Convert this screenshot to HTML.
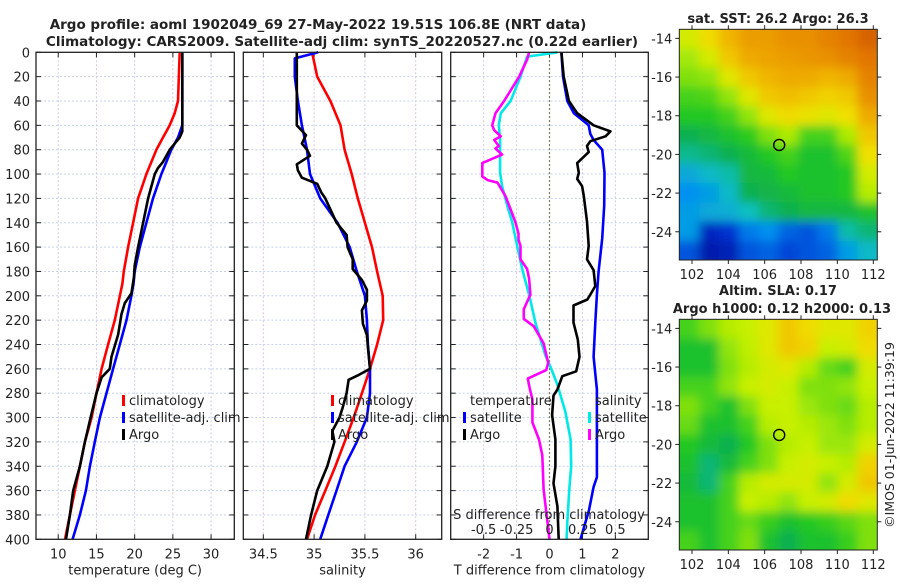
<!DOCTYPE html>
<html><head><meta charset="utf-8"><style>
body{margin:0;background:#fff;}
svg text{font-family:"DejaVu Sans","Liberation Sans",sans-serif;fill:#222;}
</style></head><body>
<svg id="chart" width="900" height="580" viewBox="0 0 900 580" xmlns="http://www.w3.org/2000/svg">
<defs>
<filter id="blur" x="0" y="0" width="1" height="1"><feGaussianBlur stdDeviation="5" edgeMode="duplicate"/></filter>
<clipPath id="clipTop"><rect x="679.3" y="29.3" width="198" height="230.7"/></clipPath>
<clipPath id="clipBot"><rect x="679.3" y="319.3" width="198" height="230.7"/></clipPath>
</defs>
<g id="titles">
<text x="318" y="29" text-anchor="middle" font-size="13.5" font-weight="bold">Argo profile: aoml 1902049_69 27-May-2022 19.51S 106.8E (NRT data)</text>
<text x="342" y="46" text-anchor="middle" font-size="13.5" font-weight="bold">Climatology: CARS2009. Satellite-adj clim: synTS_20220527.nc (0.22d earlier)</text>
<text x="778" y="23" text-anchor="middle" font-size="13" font-weight="bold">sat. SST: 26.2 Argo: 26.3</text>
<text x="778" y="295" text-anchor="middle" font-size="13" font-weight="bold">Altim. SLA: 0.17</text>
<text x="782" y="313" text-anchor="middle" font-size="13" font-weight="bold">Argo h1000: 0.12 h2000: 0.13</text>
<text transform="translate(894,435) rotate(-90)" text-anchor="middle" font-size="12.5">©IMOS 01-Jun-2022 11:39:19</text>
</g>
</svg>
<script>
// ---- data ----
const depthTicks=[0,20,40,60,80,100,120,140,160,180,200,220,240,260,280,300,320,340,360,380,400];
const tempTicks=[10,15,20,25,30];
const salTicks=[34.5,35,35.5,36];
const tdiffTicks=[-2,-1,0,1,2];
const sdiffTicks=[-0.5,-0.25,0,0.25,0.5];
const sdiffTickLabels=["-0.5","-0.25","0","0.25","0.5"];

const tClimDepth=[0,40,50,60,70,80,90,100,120,140,160,180,190,220,240,260,280,300,320,340,360,380,400];
const tClimVal=[25.9,25.67,25.24,24.58,23.71,22.85,22.19,21.54,20.45,19.8,19.14,18.58,18.4,17.4,16.53,15.67,15.01,14.36,13.49,12.83,12.18,11.53,10.88];
const tSatDepth=[0,60,70,80,90,100,120,140,160,180,190,200,220,240,260,280,300,320,340,360,380,400];
const tSatVal=[26.24,26.24,25.67,24.8,24.15,23.5,22.4,21.54,20.67,20.01,19.85,19.58,18.93,18.06,17.18,16.32,15.45,14.79,14.14,13.62,12.83,11.88];
const tArgoDepth=[0,65,70,75,80,90,95,100,120,140,160,175,185,198,206,215,232,250,260,267,280,300,320,340,360,380,400];
const tArgoVal=[26.24,26.24,25.9,25.24,24.58,23.71,23.06,22.63,21.76,21.1,20.45,20.01,19.9,19.58,18.71,18.28,17.84,16.97,16.75,15.67,15.01,14.23,13.49,12.83,11.96,11.53,11.01];

const sClimDepth=[0,20,40,60,80,100,120,140,160,180,200,220,240,260,280,300,320,340,360,380,400];
const sClimVal=[34.98,35.03,35.16,35.26,35.3,35.37,35.43,35.5,35.57,35.62,35.675,35.68,35.62,35.55,35.47,35.39,35.3,35.21,35.11,35.01,34.93];
const sSatDepth=[0,5,20,40,60,80,100,120,140,160,180,200,220,240,260,280,300,320,340,360,380,400];
const sSatVal=[35.04,34.81,34.81,34.84,34.88,34.93,34.96,35.06,35.23,35.35,35.42,35.5,35.52,35.53,35.55,35.55,35.52,35.42,35.3,35.22,35.14,35.06];
const sArgoDepth=[0,60,68,75,80,85,92,97,103,108,115,120,140,150,160,170,178,187,195,204,212,223,232,242,260,265,269,280,292,300,311,320,340,360,380,400];
const sArgoVal=[34.83,34.83,34.92,34.88,34.93,34.96,34.83,34.84,34.88,35.03,35.07,35.11,35.22,35.32,35.33,35.38,35.38,35.47,35.52,35.52,35.47,35.48,35.52,35.53,35.55,35.44,35.34,35.32,35.28,35.25,35.18,35.2,35.13,35.03,34.97,34.92];

const dtArgoDepth=[0,20,40,50,60,65,69,73,77,82,91,99,104,110,118,139,159,170,179,192,199,203,208,222,236,250,262,266,277,282,298,318,340,354,373,400];
const dtArgoVal=[0.36,0.43,0.59,0.84,1.34,1.85,1.7,1.24,1.14,1.19,0.84,0.89,0.84,0.99,1.04,1.14,1.19,1.14,1.34,1.39,1.24,1.15,0.73,0.73,0.86,0.91,0.81,0.39,0.24,0.12,0.08,0.18,0.18,0.12,0.24,0.28];
const dtSatDepth=[0,20,40,50,60,67,72,80,99,126,153,180,199,222,250,277,304,349,357,376,400];
const dtSatVal=[0.36,0.41,0.54,0.74,1.19,1.24,1.34,1.6,1.67,1.66,1.6,1.49,1.44,1.39,1.34,1.44,1.44,1.44,1.34,1.2,0.94];
const dsSatDepth=[0,3.5,20,40,50,60,72,99,110,126,139,159,179,199,223,249,259,273,295,318,340,359,386,400];
const dsSatVal=[0.06,-0.17,-0.22,-0.295,-0.37,-0.385,-0.375,-0.375,-0.36,-0.32,-0.285,-0.245,-0.205,-0.155,-0.105,-0.03,0.01,0.06,0.12,0.16,0.165,0.15,0.135,0.13];
const dsArgoDepth=[0,6,20,40,50,60,64,69,72,77,79,84,91,96,102,105,107,118,129,139,149,154,159,170,178,186,199,211,219,225,239,255,261,268,276,285,304,318,331,359,386,400];
const dsArgoVal=[-0.155,-0.17,-0.23,-0.345,-0.41,-0.435,-0.42,-0.37,-0.42,-0.385,-0.41,-0.36,-0.51,-0.51,-0.51,-0.47,-0.395,-0.335,-0.295,-0.26,-0.235,-0.235,-0.22,-0.22,-0.17,-0.155,-0.145,-0.195,-0.195,-0.12,-0.045,-0.01,-0.025,-0.165,-0.15,-0.13,-0.13,-0.08,-0.055,-0.045,-0.015,0.0];

const mapLonTicks=[102,104,106,108,110,112];
const mapLatTicks=[-14,-16,-18,-20,-22,-24];
const argoLon=106.8, argoLat=-19.51;
const sstGrid=[
[0.7,0.76,0.84,0.88,0.88,0.9,0.9,0.92,0.94,0.97],
[0.64,0.7,0.8,0.86,0.87,0.88,0.89,0.9,0.92,0.94],
[0.6,0.62,0.72,0.8,0.84,0.86,0.86,0.84,0.86,0.92],
[0.55,0.56,0.62,0.72,0.8,0.82,0.8,0.78,0.8,0.9],
[0.52,0.52,0.55,0.62,0.72,0.76,0.74,0.72,0.75,0.86],
[0.45,0.47,0.5,0.53,0.6,0.65,0.55,0.55,0.65,0.8],
[0.4,0.42,0.45,0.48,0.52,0.55,0.5,0.5,0.56,0.75],
[0.32,0.35,0.38,0.47,0.48,0.52,0.5,0.5,0.52,0.7],
[0.28,0.3,0.35,0.45,0.46,0.48,0.5,0.5,0.52,0.66],
[0.3,0.32,0.33,0.36,0.42,0.45,0.47,0.47,0.47,0.5],
[0.3,0.12,0.15,0.25,0.28,0.22,0.2,0.25,0.38,0.42],
[0.2,0.08,0.1,0.2,0.22,0.18,0.2,0.22,0.3,0.35]];
const slaGrid=[
[0.55,0.6,0.66,0.68,0.72,0.8,0.76,0.72,0.72,0.78],
[0.5,0.5,0.62,0.67,0.72,0.8,0.78,0.68,0.7,0.76],
[0.5,0.5,0.6,0.66,0.7,0.72,0.66,0.58,0.55,0.7],
[0.55,0.55,0.62,0.68,0.7,0.68,0.6,0.6,0.62,0.68],
[0.6,0.55,0.5,0.6,0.68,0.68,0.63,0.6,0.58,0.66],
[0.58,0.5,0.5,0.55,0.66,0.68,0.66,0.63,0.6,0.66],
[0.52,0.48,0.45,0.52,0.6,0.66,0.68,0.63,0.63,0.7],
[0.5,0.42,0.48,0.55,0.6,0.68,0.7,0.68,0.66,0.78],
[0.48,0.42,0.55,0.66,0.7,0.7,0.7,0.62,0.7,0.8],
[0.5,0.5,0.55,0.68,0.66,0.62,0.68,0.7,0.76,0.72],
[0.5,0.5,0.55,0.58,0.54,0.5,0.52,0.54,0.57,0.6],
[0.55,0.5,0.55,0.6,0.5,0.45,0.5,0.5,0.54,0.6]];

// ---- helpers ----
const NS="http://www.w3.org/2000/svg";
const svg=document.getElementById('chart');
function mk(tag,attrs,parent){const e=document.createElementNS(NS,tag);for(const k in attrs)e.setAttribute(k,attrs[k]);(parent||svg).appendChild(e);return e;}
const TOP=52.3,BOT=539.3;
function yD(d){return TOP+(d/400)*(BOT-TOP);}
function lin(d0,d1,r0,r1){return v=>r0+(v-d0)/(d1-d0)*(r1-r0);}
const xT=lin(7.09,33.04,36,234.3);
const xS=lin(34.303,36.256,243.3,441.7);
const xDT=lin(-3,3,450.7,648.3);
const xDS=lin(-0.75,0.75,450.7,648.3);

function panel(name,x0,x1,xs,ticks,labels,xlabel,showY){
  const g=mk('g',{});
  
  
  ticks.forEach(t=>{const gx=mk('line',{x1:xs(t),x2:xs(t),y1:TOP,y2:BOT,stroke:'#d8c8e0','stroke-width':1,'stroke-dasharray':'2,2'},g);
    });
  depthTicks.forEach(d=>{const gy=mk('line',{x1:x0,x2:x1,y1:yD(d),y2:yD(d),stroke:'#c8d0ec','stroke-width':1,'stroke-dasharray':'2,2'},g);
    
    mk('line',{x1:x0,x2:x0+5,y1:yD(d),y2:yD(d),stroke:'#222'},g);
    mk('line',{x1:x1-5,x2:x1,y1:yD(d),y2:yD(d),stroke:'#222'},g);
    if(showY){const t=mk('text',{x:x0-6,y:yD(d)+5,'text-anchor':'end','font-size':13},g);t.textContent=d;
      }
  });
  ticks.forEach((t,i)=>{mk('line',{x1:xs(t),x2:xs(t),y1:BOT-5,y2:BOT,stroke:'#222'},g);mk('line',{x1:xs(t),x2:xs(t),y1:TOP,y2:TOP+5,stroke:'#222'},g);
    const tx=mk('text',{x:xs(t),y:BOT+19,'text-anchor':'middle','font-size':13},g);tx.textContent=labels?labels[i]:t;
    });
  const xl=mk('text',{x:(x0+x1)/2,y:BOT+35,'text-anchor':'middle','font-size':13},g);xl.textContent=xlabel;
  
  return g;
}
function frame(x0,x1,g){const r=mk('rect',{x:x0,y:TOP,width:x1-x0,height:BOT-TOP,fill:'none',stroke:'#222','stroke-width':1.3},g);
  }
function line(g,name,depths,vals,xs,color){
  const pts=depths.map((d,i)=>xs(vals[i]).toFixed(1)+','+yD(d).toFixed(1)).join(' ');
  const p=mk('polyline',{points:pts,fill:'none',stroke:color,'stroke-width':2.6,'stroke-linejoin':'round'},g);
  
}
function legend(g,x,y,color,label){
  const m=mk('rect',{x:x,y:y-10,width:3,height:11,fill:color},g);
  
  const t=mk('text',{x:x+7,y:y,'font-size':13},g);t.textContent=label;
  
}

// panel 1
let g1=panel('temperature-panel',36,234.3,xT,tempTicks,null,'temperature (deg C)',true);
line(g1,'temp-climatology-line',tClimDepth,tClimVal,xT,'#ff0000');
line(g1,'temp-satellite-line',tSatDepth,tSatVal,xT,'#0000ff');
line(g1,'temp-argo-line',tArgoDepth,tArgoVal,xT,'#000000');
legend(g1,122,405,'#ff0000','climatology');legend(g1,122,422,'#0000ff','satellite-adj. clim');legend(g1,122,439,'#000000','Argo');
frame(36,234.3,g1);
// panel 2
let g2=panel('salinity-panel',243.3,441.7,xS,salTicks,null,'salinity',false);
line(g2,'sal-climatology-line',sClimDepth,sClimVal,xS,'#ff0000');
line(g2,'sal-satellite-line',sSatDepth,sSatVal,xS,'#0000ff');
line(g2,'sal-argo-line',sArgoDepth,sArgoVal,xS,'#000000');
legend(g2,331,405,'#ff0000','climatology');legend(g2,331,422,'#0000ff','satellite-adj. clim');legend(g2,331,439,'#000000','Argo');
frame(243.3,441.7,g2);
// panel 3
let g3=panel('difference-panel',450.7,648.3,xDT,tdiffTicks,null,'T difference from climatology',false);
const z=mk('line',{x1:xDT(0),x2:xDT(0),y1:TOP,y2:BOT,stroke:'#556030','stroke-width':1.2,'stroke-dasharray':'1.5,2.5'},g3);

line(g3,'sdiff-satellite-line',dsSatDepth,dsSatVal,xDS,'#00e8e8');
line(g3,'sdiff-argo-line',dsArgoDepth,dsArgoVal,xDS,'#ff00ff');
line(g3,'tdiff-satellite-line',dtSatDepth,dtSatVal,xDT,'#0000ff');
line(g3,'tdiff-argo-line',dtArgoDepth,dtArgoVal,xDT,'#000000');
let lt=mk('text',{x:470,y:405,'font-size':13},g3);lt.textContent='temperature';

legend(g3,463,422,'#0000ff','satellite');legend(g3,463,439,'#000000','Argo');
let ls=mk('text',{x:595,y:405,'font-size':13},g3);ls.textContent='salinity';

legend(g3,588,422,'#00e8e8','satellite');legend(g3,588,439,'#ff00ff','Argo');
let st=mk('text',{x:549,y:519,'text-anchor':'middle','font-size':13},g3);st.textContent='S difference from climatology';

sdiffTicks.forEach((t,i)=>{const tx=mk('text',{x:xDS(t),y:534,'text-anchor':'middle','font-size':13},g3);tx.textContent=sdiffTickLabels[i];
  });
frame(450.7,648.3,g3);

// maps
function jet(v){
  const stops=[[0,[0,0,128]],[0.15,[0,48,208]],[0.28,[0,144,240]],[0.36,[16,192,192]],[0.45,[16,176,80]],[0.52,[32,200,32]],[0.6,[128,224,16]],[0.68,[200,240,0]],[0.75,[240,224,0]],[0.85,[240,176,0]],[0.95,[224,112,0]],[1,[200,80,0]]];
  for(let i=1;i<stops.length;i++){if(v<=stops[i][0]){const a=stops[i-1],b=stops[i],f=(v-a[0])/(b[0]-a[0]);
    return 'rgb('+a[1].map((c,k)=>Math.round(c+f*(b[1][k]-c))).join(',')+')';}}
  return 'rgb(200,80,0)';
}
function map(name,grid,top,clipId){
  const X0=679.3,X1=877.3,Y0=top,Y1=top+230.7;
  const xL=lin(101.3,112.2,X0,X1), yL=lin(-13.53,-25.46,Y0,Y1);
  const g=mk('g',{});
  
  const clipG=mk('g',{'clip-path':'url(#'+clipId+')'},g);
  const cellsG=mk('g',{filter:'url(#blur)'},clipG);
  const rows=grid.length,cols=grid[0].length,cw=(X1-X0)/cols,ch=(Y1-Y0)/rows;
  // pad by one cell on each side so blur doesn't fade at edges
  for(let r=-1;r<=rows;r++)for(let c=-1;c<=cols;c++){
    const rr=Math.min(Math.max(r,0),rows-1),cc=Math.min(Math.max(c,0),cols-1);
    const cell=mk('rect',{x:X0+c*cw,y:Y0+r*ch,width:cw+0.6,height:ch+0.6,fill:jet(grid[rr][cc])},cellsG);
    }
  const fr=mk('rect',{x:X0,y:Y0,width:X1-X0,height:Y1-Y0,fill:'none',stroke:'#222','stroke-width':1},g);
  
  mapLatTicks.forEach(t=>{mk('line',{x1:X0-4,x2:X0,y1:yL(t),y2:yL(t),stroke:'#222'},g);mk('line',{x1:X1,x2:X1+4,y1:yL(t),y2:yL(t),stroke:'#222'},g);
    const tx=mk('text',{x:X0-7,y:yL(t)+5,'text-anchor':'end','font-size':13},g);tx.textContent=t;
    });
  mapLonTicks.forEach(t=>{const px=Math.min(xL(t),X1-4);mk('line',{x1:px,x2:px,y1:Y1,y2:Y1+4,stroke:'#222'},g);mk('line',{x1:px,x2:px,y1:Y0-4,y2:Y0,stroke:'#222'},g);
    const tx=mk('text',{x:px,y:Y1+19,'text-anchor':'middle','font-size':13},g);tx.textContent=t;
    });
  const c=mk('circle',{cx:xL(argoLon),cy:yL(argoLat),r:5.5,fill:'none',stroke:'#000','stroke-width':1.4},g);
  
}
map('sst-map',sstGrid,29.3,'clipTop');
map('sla-map',slaGrid,319.3,'clipBot');
</script>
</body></html>
